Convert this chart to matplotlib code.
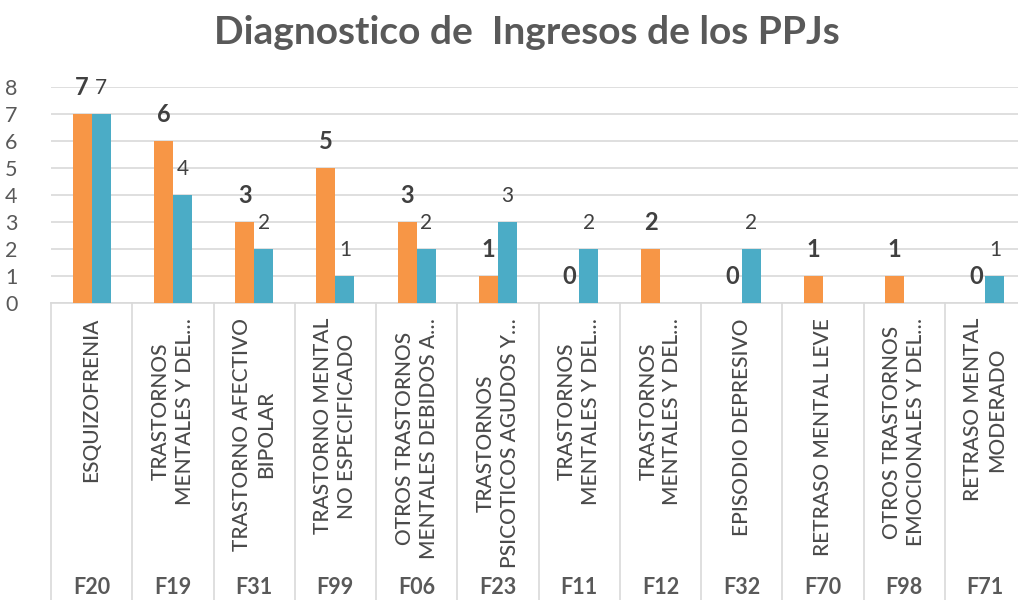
import numpy as np
import matplotlib
matplotlib.use('Agg')
import matplotlib.pyplot as plt
from matplotlib.lines import Line2D
import matplotlib.transforms as mtransforms

codes = ['F20', 'F19', 'F31', 'F99', 'F06', 'F23', 'F11', 'F12', 'F32', 'F70', 'F98', 'F71']
names = ['ESQUIZOFRENIA',
         'TRASTORNOS\nMENTALES Y DEL…',
         'TRASTORNO AFECTIVO\nBIPOLAR',
         'TRASTORNO MENTAL\nNO ESPECIFICADO',
         'OTROS TRASTORNOS\nMENTALES DEBIDOS A…',
         'TRASTORNOS\nPSICOTICOS AGUDOS Y…',
         'TRASTORNOS\nMENTALES Y DEL…',
         'TRASTORNOS\nMENTALES Y DEL…',
         'EPISODIO DEPRESIVO',
         'RETRASO MENTAL LEVE',
         'OTROS TRASTORNOS\nEMOCIONALES Y DEL…',
         'RETRASO MENTAL\nMODERADO']
serie1 = [7, 6, 3, 5, 3, 1, 0, 2, 0, 1, 1, 0]            # orange
serie2 = [7, 4, 2, 1, 2, 3, 2, np.nan, 2, np.nan, np.nan, 1]  # teal

orange = '#F79646'
teal = '#4BACC6'
txt = '#595959'
dark = '#404040'
grid = '#D9D9D9'
font = 'Lato'

fig = plt.figure(figsize=(10.18, 6), dpi=100)
ax = fig.add_axes([51/1018, 297/600, 975/1018, 216/600])

x = np.arange(len(codes))
w = 0.234
b1 = ax.bar(x - w/2, serie1, w, color=orange, zorder=3)
b2 = ax.bar(x + w/2, np.nan_to_num(serie2), w, color=teal, zorder=3)

for i in range(len(x)):
    ax.annotate(str(serie1[i]), (x[i] - w/2, serie1[i]), xytext=(0, 19), textcoords='offset points',
                ha='center', va='center', fontsize=17, fontweight='bold', color=dark, family=font)
    if not np.isnan(serie2[i]):
        ax.annotate(str(int(serie2[i])), (x[i] + w/2, serie2[i]), xytext=(0, 19), textcoords='offset points',
                    ha='center', va='center', fontsize=15, color=dark, family=font)

ax.set_xlim(-0.5, len(codes) - 0.5)
ax.set_ylim(0, 8)
ax.set_yticks(range(9))
ax.set_yticklabels([str(v) for v in range(9)], fontsize=15.5, color=txt, family=font)
ax.tick_params(axis='y', length=0, pad=24)
ax.set_xticks([])
ax.yaxis.grid(True, color=grid, linewidth=1.2, zorder=0)
for s in ['top', 'right', 'left']:
    ax.spines[s].set_visible(False)
ax.spines['bottom'].set_color(grid)
ax.spines['bottom'].set_linewidth(1.2)

# category boxes below the axis
tr = mtransforms.blended_transform_factory(ax.transData, fig.transFigure)
for k in range(len(codes) + 1):
    fig.add_artist(Line2D([k - 0.5, k - 0.5], [0, 297/600], transform=tr, color=grid, linewidth=1.2))
for i in range(len(codes)):
    fig.text(x[i], 1 - 318/600, names[i], transform=tr, rotation=90, ha='center', va='top',
             multialignment='center', fontsize=15, color='#4a4a4a', family=font,
             fontweight='medium', linespacing=1.25)
    fig.text(x[i], 13/600, codes[i], transform=tr, ha='center', va='center',
             fontsize=15.5, fontweight='bold', color=txt, family=font)

fig.text(527/1018, 1 - 32/600, 'Diagnostico de  Ingresos de los PPJs', ha='center', va='center',
         fontsize=28, fontweight='bold', color=txt, family=font)

plt.savefig('out.png', dpi=100)
